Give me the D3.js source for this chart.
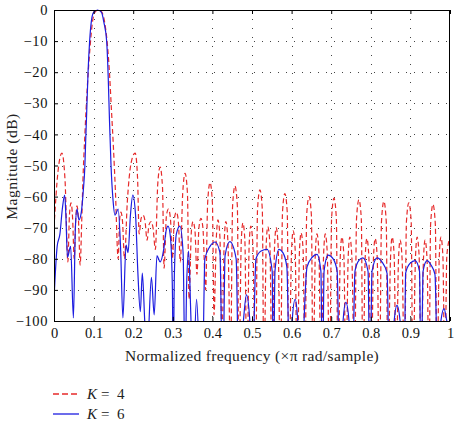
<!DOCTYPE html>
<html><head><meta charset="utf-8">
<script src="https://cdn.jsdelivr.net/npm/d3@7"></script>
<style>
body{margin:0;background:#fff}
svg{display:block}
text{font-family:"Liberation Serif","Times New Roman",serif}
</style>
</head><body>
<svg id="c" width="456" height="422"></svg>
<script>
const xTicks = [0, 0.1, 0.2, 0.3, 0.4, 0.5, 0.6, 0.7, 0.8, 0.9, 1];
const yTicks = [0, -10, -20, -30, -40, -50, -60, -70, -80, -90, -100];
const xTitle = "Normalized frequency (\u00d7\u03c0 rad/sample)";
const yTitle = "Magnitude (dB)";
const legendK = ["4", "6"];

// K = 4 (red dashed): [normalized frequency, dB]
const k4 = [
[0.000,-70],[0.010,-52],[0.020,-46],[0.028,-55],[0.035,-81],[0.039,-66],[0.043,-62],[0.047,-67],[0.051,-80],[0.055,-67],[0.058,-63],[0.062,-68],[0.066,-82],
[0.070,-68],[0.073,-55],[0.078,-40],[0.084,-25],[0.091,-12],[0.097,-4],[0.104,-0.6],[0.112,0],[0.120,-0.5],[0.128,-4],[0.134,-10],[0.140,-20],[0.145,-32],[0.150,-44],[0.155,-58],
[0.162,-80],[0.166,-67],[0.169,-65],[0.173,-68],[0.178,-80],[0.185,-62],[0.195,-49],[0.205,-46],[0.211,-54],[0.215,-72],[0.220,-67],[0.225,-66],[0.230,-68],[0.235,-74],
[0.240,-69],[0.245,-68],[0.250,-70],[0.256,-77],[0.262,-56],[0.268,-50.5],[0.274,-57],[0.278,-83],[0.284,-66],[0.289,-64],[0.294,-67],[0.299,-80],[0.304,-67],[0.309,-65],
[0.314,-68],[0.319,-81],[0.325,-59],[0.331,-52.5],[0.337,-59],[0.341,-93],[0.347,-71],[0.351,-68],[0.356,-71],[0.361,-85],[0.366,-70],[0.371,-67],[0.376,-70],[0.383,-90],
[0.388,-62],[0.394,-55.5],[0.400,-62],[0.404,-98],[0.410,-73],[0.414,-67.5],[0.419,-73],[0.424,-105],[0.430,-74],[0.434,-68],[0.439,-74],[0.446,-112],
[0.451,-63],[0.457,-56.6],[0.463,-63],[0.467,-120],[0.473,-74],[0.477,-68.5],[0.482,-74],[0.487,-120],[0.493,-75],[0.497,-69.5],[0.502,-75],[0.509,-120],
[0.514,-64],[0.520,-57.8],[0.526,-64],[0.530,-120],[0.536,-75],[0.540,-69.7],[0.545,-75],[0.551,-120],[0.557,-76],[0.561,-70],[0.566,-76],[0.572,-120],
[0.577,-65],[0.583,-59],[0.589,-65],[0.593,-120],[0.600,-77],[0.604,-71],[0.609,-77],[0.614,-120],[0.620,-77],[0.624,-71.7],[0.629,-77],[0.634,-120],
[0.638,-66],[0.644,-60],[0.650,-66],[0.654,-120],[0.660,-78],[0.664,-72],[0.669,-78],[0.674,-120],[0.681,-78],[0.685,-72],[0.690,-78],[0.696,-120],
[0.701,-67],[0.707,-60.5],[0.713,-67],[0.717,-120],[0.723,-79],[0.727,-73],[0.732,-79],[0.737,-120],[0.743,-79],[0.747,-73],[0.752,-79],[0.759,-120],
[0.764,-67],[0.770,-61],[0.776,-67],[0.780,-120],[0.786,-79],[0.790,-73.5],[0.795,-79],[0.801,-120],[0.807,-79],[0.811,-73.5],[0.816,-79],[0.822,-120],
[0.827,-68],[0.833,-61.5],[0.839,-68],[0.843,-120],[0.850,-79],[0.854,-73],[0.859,-79],[0.864,-120],[0.870,-80],[0.874,-74],[0.879,-80],[0.885,-120],
[0.890,-68],[0.896,-62],[0.902,-68],[0.906,-120],[0.913,-79],[0.917,-73],[0.922,-79],[0.927,-120],[0.933,-80],[0.937,-74],[0.942,-80],[0.947,-120],
[0.951,-69],[0.957,-62.5],[0.963,-69],[0.967,-120],[0.973,-79],[0.977,-73],[0.982,-79],[0.987,-120],[0.992,-79],[1.000,-73]
];

// K = 6 (blue solid): [normalized frequency, dB]
const k6 = [
[0.000,-93],[0.008,-76],[0.015,-72],[0.021,-64],[0.027,-59.5],[0.030,-66],[0.034,-79.5],[0.042,-76],[0.049,-99],[0.054,-70],[0.058,-64],[0.063,-67.5],[0.069,-65],[0.074,-58],
[0.078,-50],[0.080,-42],[0.082,-35],[0.086,-20],[0.090,-10],[0.094,-4],[0.100,-0.8],[0.110,0],[0.120,-0.8],[0.126,-4],[0.133,-10],[0.137,-22],[0.140,-35],[0.144,-50],
[0.149,-61],[0.154,-66],[0.162,-64],[0.168,-76],[0.174,-99],[0.182,-75.6],[0.187,-78],[0.193,-66],[0.199,-59.5],[0.206,-66],[0.212,-85],[0.218,-97],[0.223,-84.6],
[0.230,-102],[0.236,-108],[0.246,-86],[0.253,-98],[0.260,-79],[0.268,-81],[0.277,-77],[0.283,-71],[0.288,-69.5],[0.294,-73],[0.299,-90],[0.301,-118],[0.304,-85],
[0.309,-72],[0.318,-69.5],[0.326,-78],[0.331,-118],[0.335,-88],[0.340,-77.5],[0.345,-96],[0.351,-118],[0.360,-93],[0.369,-118],[0.374,-125],[0.381,-80],
[0.394,-76],[0.407,-74.6],[0.419,-78],[0.426,-125],[0.432,-79],[0.444,-74.5],[0.460,-80],[0.467,-125],[0.479,-99],[0.486,-91.6],[0.494,-99],[0.500,-125],
[0.510,-80],[0.523,-77.5],[0.538,-77],[0.551,-84],[0.554,-125],[0.558,-84],[0.568,-77],[0.578,-78],[0.588,-82.6],[0.596,-125],[0.602,-99],[0.609,-93],[0.615,-99],[0.621,-125],
[0.639,-82.6],[0.652,-79.5],[0.664,-78.6],[0.674,-84],[0.678,-125],[0.682,-84],[0.692,-78.8],[0.705,-80],[0.715,-84],[0.722,-125],[0.730,-100],[0.737,-94],[0.745,-100],[0.753,-125],
[0.760,-84],[0.770,-80.5],[0.780,-79.7],[0.793,-84],[0.798,-125],[0.803,-84],[0.816,-79.7],[0.828,-81],[0.841,-84.6],[0.848,-125],[0.859,-100],[0.866,-95],[0.874,-100],[0.884,-125],
[0.888,-84.6],[0.899,-81.5],[0.912,-80.6],[0.923,-84],[0.927,-125],[0.932,-84],[0.942,-80.6],[0.952,-82],[0.962,-85],[0.970,-125],[0.977,-100],[0.985,-96],[0.992,-100],[1.000,-104]
];

const RED = "#e62a2a", BLUE = "#1c1ce0";
const m = {l:54, r:450, t:10, b:321};
const svg = d3.select("#c");
const x = d3.scaleLinear().domain([0,1]).range([m.l, m.r]);
const y = d3.scaleLinear().domain([-100,0]).range([m.b, m.t]);

// grid (dotted)
const grid = svg.append("g");
grid.selectAll("line.gx").data(xTicks.slice(1,-1)).join("line")
  .attr("x1", d => Math.round(x(d)) + 0.5).attr("x2", d => Math.round(x(d)) + 0.5)
  .attr("y1", m.t).attr("y2", m.b)
  .attr("stroke", "#444").attr("stroke-width", 1).attr("stroke-dasharray", "1,8");
grid.selectAll("line.gy").data(yTicks.slice(1,-1)).join("line")
  .attr("y1", d => Math.round(y(d)) + 0.5).attr("y2", d => Math.round(y(d)) + 0.5)
  .attr("x1", m.l).attr("x2", m.r)
  .attr("stroke", "#444").attr("stroke-width", 1).attr("stroke-dasharray", "1,7");

// clip
svg.append("clipPath").attr("id", "clip").append("rect")
  .attr("x", m.l).attr("y", m.t - 2).attr("width", m.r - m.l).attr("height", m.b - m.t + 2);

const line = d3.line().x(d => x(d[0])).y(d => y(d[1])).curve(d3.curveMonotoneX);
const plot = svg.append("g").attr("clip-path", "url(#clip)");
plot.append("path").datum(k4).attr("d", line).attr("fill", "none")
  .attr("stroke", RED).attr("stroke-width", 1.2).attr("stroke-dasharray", "5,3");
plot.append("path").datum(k6).attr("d", line).attr("fill", "none")
  .attr("stroke", BLUE).attr("stroke-width", 1.2);

// frame
svg.append("rect").attr("x", m.l + 0.5).attr("y", m.t + 0.5)
  .attr("width", m.r - m.l - 1).attr("height", m.b - m.t)
  .attr("fill", "none").attr("stroke", "#000").attr("stroke-width", 1);

function styleAxis(g) {
  g.select(".domain").remove();
  g.selectAll(".tick line").attr("stroke", "#000");
  g.selectAll("text").attr("fill", "#111").attr("font-size", 14.5)
    .attr("font-family", "'Liberation Serif','Times New Roman',serif");
}
const fmt = d3.format("~g");
svg.append("g").attr("transform", `translate(0,${m.b})`)
  .call(d3.axisBottom(x).tickValues(xTicks).tickFormat(fmt).tickSizeInner(-4).tickSizeOuter(0).tickPadding(7))
  .call(styleAxis);
svg.append("g").attr("transform", `translate(0,${m.t})`)
  .call(d3.axisTop(x).tickValues(xTicks).tickFormat("").tickSizeInner(-4).tickSizeOuter(0))
  .call(styleAxis);
svg.append("g").attr("transform", `translate(${m.l},0)`)
  .call(d3.axisLeft(y).tickValues(yTicks).tickFormat(fmt).tickSizeInner(-4).tickSizeOuter(0).tickPadding(6))
  .call(styleAxis)
  .call(g => g.selectAll("text").attr("letter-spacing", 0.6));

// titles
svg.append("text").attr("x", (m.l + m.r) / 2).attr("y", 361).attr("text-anchor", "middle")
  .attr("font-size", 15.5).attr("letter-spacing", 0.35).attr("fill", "#222").text(xTitle);
svg.append("text").attr("transform", `translate(17,${(m.t + m.b) / 2 + 1}) rotate(-90)`)
  .attr("text-anchor", "middle").attr("font-size", 15.5).attr("letter-spacing", 0.5).attr("fill", "#222").text(yTitle);

// legend
const leg = svg.append("g");
const legY = [394, 414];
legendK.forEach((k, i) => {
  leg.append("line").attr("x1", 53).attr("x2", 79).attr("y1", legY[i]).attr("y2", legY[i])
    .attr("stroke", i === 0 ? RED : BLUE).attr("stroke-width", 1.3)
    .attr("stroke-dasharray", i === 0 ? "6,3" : null);
  const t = leg.append("text").attr("y", legY[i] + 5).attr("font-size", 15).attr("fill", "#222");
  t.append("tspan").attr("x", 87).attr("font-style", "italic").text("K");
  t.append("tspan").attr("x", 101).text("=");
  t.append("tspan").attr("x", 117).text(k);
});
</script>
</body></html>
